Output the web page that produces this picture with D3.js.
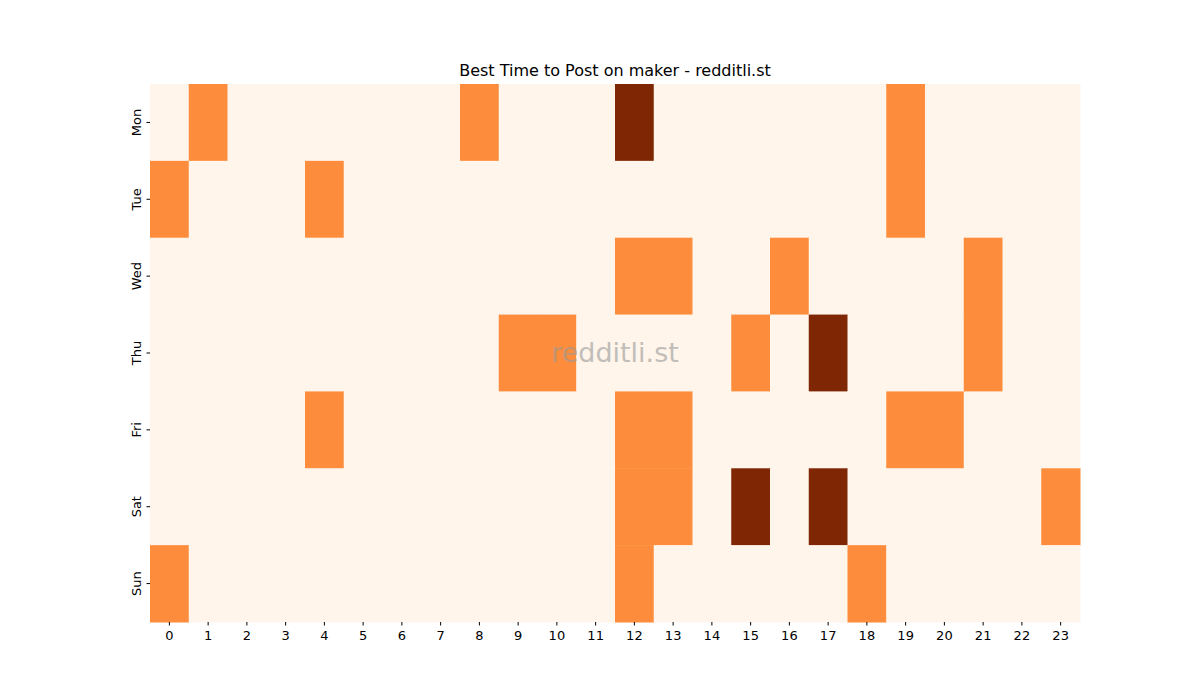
<!DOCTYPE html>
<html><head><meta charset="utf-8">
<script src="https://cdn.jsdelivr.net/npm/d3@7"></script>
<style>body{margin:0;background:#fff}</style></head>
<body><svg id="c" width="1200" height="700"></svg>
<script>
const days = ["Mon","Tue","Wed","Thu","Fri","Sat","Sun"];
const hours = d3.range(24).map(String);
// hot cells per day: [hour, level]
const monVals = [[1,1],[8,1],[12,2],[19,1]];
const tueVals = [[0,1],[4,1],[19,1]];
const wedVals = [[12,1],[13,1],[16,1],[21,1]];
const thuVals = [[9,1],[10,1],[15,1],[17,2],[21,1]];
const friVals = [[4,1],[12,1],[13,1],[19,1],[20,1]];
const satVals = [[12,1],[13,1],[15,2],[17,2],[23,1]];
const sunVals = [[0,1],[12,1],[18,1]];
const dayVals = [monVals,tueVals,wedVals,thuVals,friVals,satVals,sunVals];

const cells = [];
days.forEach((d,i)=>{
  const m = new Map(dayVals[i]);
  hours.forEach((h,j)=>cells.push({day:d,hour:h,v:m.get(j)||0}));
});

const svg = d3.select("#c");
const L=150,R=1080,T=84,B=622;
const x = d3.scaleBand().domain(hours).range([L,R]);
const y = d3.scaleBand().domain(days).range([T,B]);
const color = d3.scaleOrdinal().domain([0,1,2]).range(["#fff5eb","#fd8d3c","#7f2704"]);

svg.append("g").selectAll("rect").data(cells).join("rect")
  .attr("x",d=>x(d.hour)).attr("y",d=>y(d.day))
  .attr("width",x.bandwidth()+0.5).attr("height",y.bandwidth()+0.5)
  .attr("fill",d=>color(d.v));

const xa = svg.append("g").attr("transform",`translate(0,${B})`).call(d3.axisBottom(x).tickSizeOuter(0).tickSize(3.5));
const ya = svg.append("g").attr("transform",`translate(${L},0)`).call(d3.axisLeft(y).tickSizeOuter(0).tickSize(3.5));
[xa,ya].forEach(a=>{a.select(".domain").remove();a.selectAll("text").attr("font-family","DejaVu Sans").attr("font-size",13).attr("fill","#000");a.selectAll("line").attr("stroke","#000");});
xa.selectAll("text").attr("dy","0.9em");
ya.selectAll("text").attr("text-anchor","middle").attr("transform","rotate(-90)").attr("x",0).attr("y",0).attr("dy",0)
  .each(function(d){d3.select(this).attr("transform",`translate(-11,${y.bandwidth()/2 - y.bandwidth()/2}) rotate(-90)`);});
ya.selectAll(".tick text").attr("dy","-0.1em").attr("transform","translate(-8,0) rotate(-90)");

svg.append("text").attr("x",(L+R)/2).attr("y",76).attr("text-anchor","middle")
  .attr("font-family","DejaVu Sans").attr("font-size",16).text("Best Time to Post on maker - redditli.st");
svg.append("text").attr("x",(L+R)/2).attr("y",362).attr("text-anchor","middle")
  .attr("font-family","DejaVu Sans").attr("font-size",27).attr("fill","#999").attr("opacity",0.6).text("redditli.st");
</script></body></html>
